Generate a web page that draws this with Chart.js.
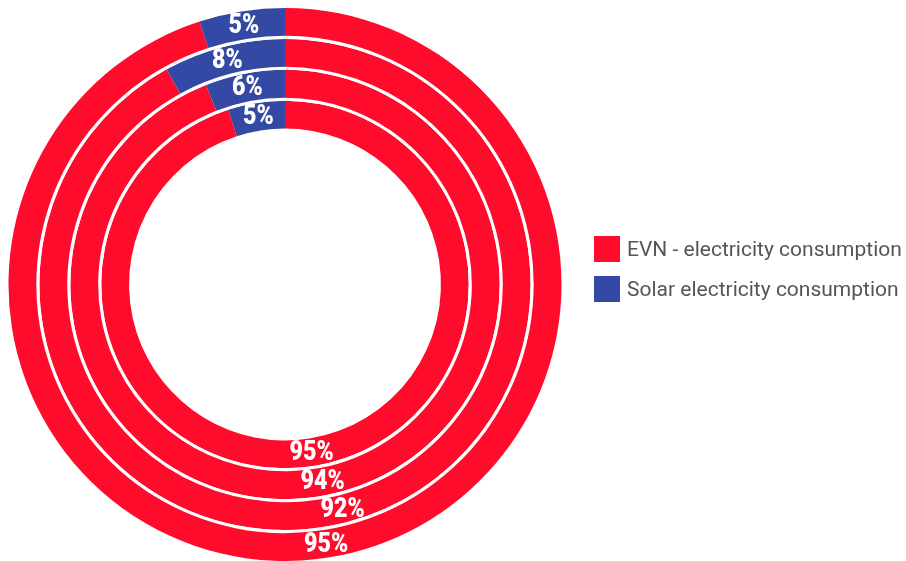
<!DOCTYPE html>
<html>
<head>
<meta charset="utf-8">
<script src="https://cdn.jsdelivr.net/npm/chart.js@4"></script>
<style>
  html, body { margin: 0; padding: 0; background: #fff; }
  #wrap { width: 906px; height: 561px; position: relative; }
  .legend { position: absolute; left: 594px; top: 236px; font-family: Roboto, sans-serif; font-size: 21px; color: #555; }
  .legend div { display: flex; align-items: center; height: 26px; margin-bottom: 14px; white-space: nowrap; }
  .legend span { display: inline-block; width: 26px; height: 26px; margin-right: 7px; }
</style>
</head>
<body>
<div id="wrap">
  <canvas id="chart"></canvas>
  <div class="legend" id="legend"></div>
</div>
<script>
// Data (rings listed outer to inner)
const categories = ['EVN - electricity consumption', 'Solar electricity consumption'];
const evnShare = [95, 92, 94, 95];
const solarShare = [5, 8, 6, 5];

const RED = '#ff0b2b';
const BLUE = '#3449a3';
const colors = [RED, BLUE];

// Build datasets, with a thin white spacer ring between each pair of rings
const datasets = [];
evnShare.forEach((v, i) => {
    if (i > 0) {
        datasets.push({
            data: [1],
            backgroundColor: ['#ffffff'],
            borderWidth: 0,
            weight: 1,
            spacer: true
        });
    }
    datasets.push({
        data: [v, solarShare[i]],
        backgroundColor: colors,
        borderWidth: 0,
        weight: 9
    });
});

// Percent labels drawn at the middle of each arc
const arcLabels = {
    id: 'arcLabels',
    afterDatasetsDraw(chart) {
        const c = chart.ctx;
        chart.data.datasets.forEach((ds, i) => {
            if (ds.spacer) return;
            chart.getDatasetMeta(i).data.forEach((arc, j) => {
                const p = arc.tooltipPosition();
                c.save();
                c.translate(p.x, p.y + 1);
                c.scale(0.86, 1);   // condensed look
                c.fillStyle = '#ffffff';
                c.font = '900 27px Roboto, sans-serif';
                c.textAlign = 'center';
                c.textBaseline = 'middle';
                c.fillText(ds.data[j] + '%', 0, 0);
                c.restore();
            });
        });
    }
};

new Chart(document.getElementById('chart'), {
    type: 'doughnut',
    data: { labels: categories, datasets: datasets },
    plugins: [arcLabels],
    options: {
        responsive: true,
        maintainAspectRatio: false,
        animation: false,
        events: [],
        cutout: '56.4%',
        layout: { padding: { top: 8, bottom: 0, left: 8, right: 344 } },
        plugins: {
            tooltip: { enabled: false },
            legend: { display: false }
        }
    }
});

// simple HTML legend
const legendEl = document.getElementById('legend');
categories.forEach((name, i) => {
    const row = document.createElement('div');
    const box = document.createElement('span');
    box.style.background = colors[i];
    row.appendChild(box);
    row.appendChild(document.createTextNode(name));
    legendEl.appendChild(row);
});
</script>
</body>
</html>
